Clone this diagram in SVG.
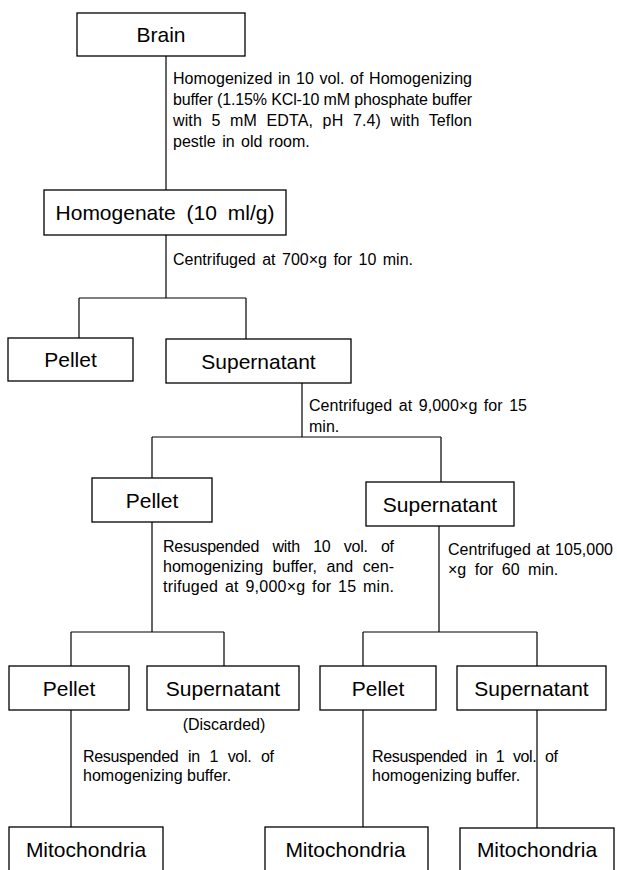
<svg xmlns="http://www.w3.org/2000/svg" width="617" height="870" viewBox="0 0 617 870">
<style>
.box{fill:#fff;stroke:#000;stroke-width:1.3}
.lbl{font-family:"Liberation Sans",Arial,sans-serif;font-size:21px;fill:#000;text-anchor:middle}
.ann{font-family:"Liberation Sans",Arial,sans-serif;font-size:16px;fill:#000}
.conn{stroke:#000;stroke-width:1.2;fill:none}
</style>
<rect width="617" height="870" fill="#fff"/>
<g id="connectors" class="conn">
<path d="M166,56 V190"/>
<path d="M166,235 V298 M79,298 H246 M79,298 V338 M246,298 V339"/>
<path d="M302,383 V437 M152,437 H441 M152,437 V478 M441,437 V482"/>
<path d="M152,522 V632 M71,632 H224 M71,632 V666 M224,632 V666"/>
<path d="M439,526 V632 M363,632 H537 M363,632 V666 M537,632 V666"/>
<path d="M71,710 V827 M363,710 V827 M537,710 V828"/>
</g>
<g id="brain">
<rect class="box" x="77" y="13" width="168" height="43"/>
<text class="lbl" x="161" y="42">Brain</text>
</g>
<g id="note-homogenize">
<text class="ann" x="173" y="84" word-spacing="1" textLength="299" lengthAdjust="spacing">Homogenized in 10 vol. of Homogenizing</text>
<text class="ann" x="173" y="105" textLength="299" lengthAdjust="spacing">buffer (1.15% KCl-10 mM phosphate buffer</text>
<text class="ann" x="173" y="126" word-spacing="5" textLength="299" lengthAdjust="spacing">with 5 mM EDTA, pH 7.4) with Teflon</text>
<text class="ann" x="173" y="147" word-spacing="2">pestle in old room.</text>
</g>
<g id="homogenate">
<rect class="box" x="44" y="190" width="242" height="45"/>
<text class="lbl" x="165" y="220" word-spacing="5">Homogenate (10 ml/g)</text>
</g>
<g id="note-700g">
<text class="ann" x="173" y="265" word-spacing="2" textLength="240" lengthAdjust="spacing">Centrifuged at 700×g for 10 min.</text>
</g>
<g id="pellet1">
<rect class="box" x="8" y="338" width="125" height="43"/>
<text class="lbl" x="70.5" y="367">Pellet</text>
</g>
<g id="supernatant1">
<rect class="box" x="166" y="339" width="185" height="44"/>
<text class="lbl" x="258.5" y="368.5">Supernatant</text>
</g>
<g id="note-9000g">
<text class="ann" x="309" y="411" word-spacing="2" textLength="218" lengthAdjust="spacing">Centrifuged at 9,000×g for 15</text>
<text class="ann" x="309" y="432">min.</text>
</g>
<g id="pellet2">
<rect class="box" x="92" y="478" width="120" height="44"/>
<text class="lbl" x="152" y="507.5">Pellet</text>
</g>
<g id="supernatant2">
<rect class="box" x="366" y="482" width="148" height="44"/>
<text class="lbl" x="440" y="511.5">Supernatant</text>
</g>
<g id="note-resuspend10">
<text class="ann" x="163" y="552" word-spacing="9" textLength="231" lengthAdjust="spacing">Resuspended with 10 vol. of</text>
<text class="ann" x="163" y="572" word-spacing="5" textLength="231" lengthAdjust="spacing">homogenizing buffer, and cen-</text>
<text class="ann" x="163" y="592" word-spacing="2" textLength="231" lengthAdjust="spacing">trifuged at 9,000×g for 15 min.</text>
</g>
<g id="note-105000g">
<text class="ann" x="448" y="555" word-spacing="1" textLength="165" lengthAdjust="spacing">Centrifuged at 105,000</text>
<text class="ann" x="448" y="575" word-spacing="4">×g for 60 min.</text>
</g>
<g id="pellet3">
<rect class="box" x="9" y="666" width="120" height="44"/>
<text class="lbl" x="69" y="695.5">Pellet</text>
</g>
<g id="supernatant3">
<rect class="box" x="147" y="666" width="152" height="44"/>
<text class="lbl" x="223" y="695.5">Supernatant</text>
<text class="ann" x="224" y="730" text-anchor="middle">(Discarded)</text>
</g>
<g id="pellet4">
<rect class="box" x="320" y="666" width="116" height="44"/>
<text class="lbl" x="378" y="695.5">Pellet</text>
</g>
<g id="supernatant4">
<rect class="box" x="457" y="666" width="149" height="44"/>
<text class="lbl" x="531.5" y="695.5">Supernatant</text>
</g>
<g id="note-resuspend1-left">
<text class="ann" x="83" y="762" word-spacing="5.5" textLength="191" lengthAdjust="spacing">Resuspended in 1 vol. of</text>
<text class="ann" x="83" y="781">homogenizing buffer.</text>
</g>
<g id="note-resuspend1-right">
<text class="ann" x="372" y="762" word-spacing="4.5" textLength="186" lengthAdjust="spacing">Resuspended in 1 vol. of</text>
<text class="ann" x="372" y="781">homogenizing buffer.</text>
</g>
<g id="mito1">
<rect class="box" x="9" y="827" width="154" height="60"/>
<text class="lbl" x="86" y="856.5">Mitochondria</text>
</g>
<g id="mito2">
<rect class="box" x="265" y="827" width="163" height="60"/>
<text class="lbl" x="345.5" y="856.5">Mitochondria</text>
</g>
<g id="mito3">
<rect class="box" x="460" y="828" width="154" height="60"/>
<text class="lbl" x="537" y="856.5">Mitochondria</text>
</g>
</svg>
